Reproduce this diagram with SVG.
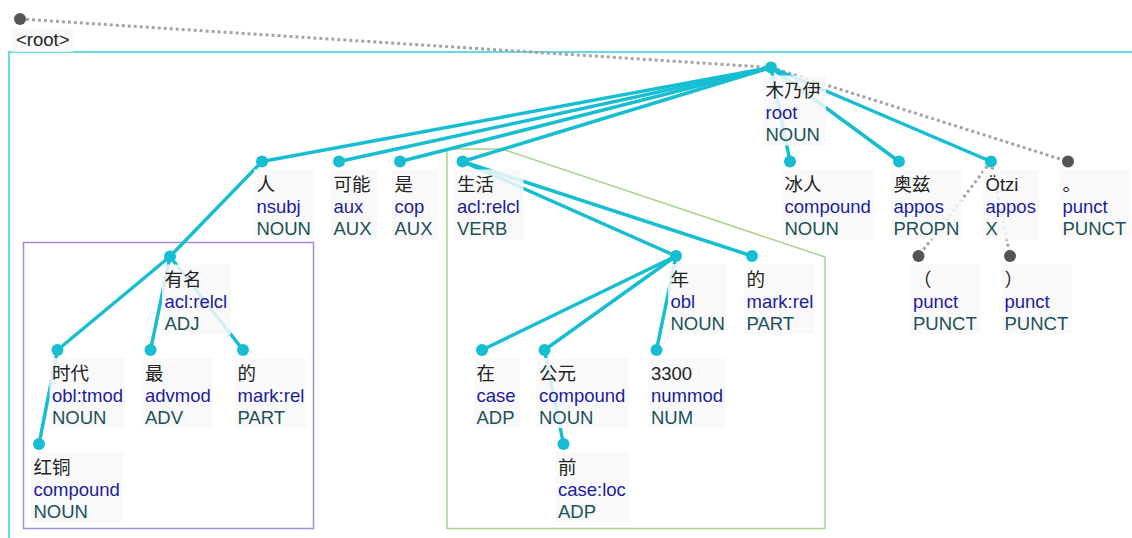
<svg xmlns="http://www.w3.org/2000/svg" width="1132" height="538" viewBox="0 0 1132 538">
<style>
text{font-family:"Liberation Sans",Arial,"Noto Sans CJK SC",sans-serif;font-size:18.5px}
.w{fill:#222}
.d{fill:#1c1ca0}
.p{fill:#1d5258}
.bx{fill:#f8f8f8;fill-opacity:0.85}
.dot{fill:#17bed2}
.gdot{fill:#555}
.e{stroke:#17bed2;stroke-width:3.5;fill:none;stroke-linecap:round}
.g{stroke:#a5a5a5;stroke-width:3;fill:none;stroke-dasharray:3 3}
</style>
<rect width="1132" height="538" fill="#fff"/>
<g id="frames">
<rect x="9" y="52" width="1140" height="500" fill="none" stroke="#66d8e7" stroke-width="2"/>
<rect x="23.5" y="242.5" width="290" height="286" fill="none" stroke="#a68bd9" stroke-width="1.5"/>
<polygon points="447,149 502,149 825,257 825,528.5 447,528.5" fill="none" stroke="#a8d48a" stroke-width="1.5"/>
</g>
<g id="connectors">
<line class="g" x1="20" y1="19" x2="771" y2="67.5"/>
<line class="g" x1="771" y1="67.5" x2="1068" y2="161.5"/>
<line class="e" x1="771" y1="67.5" x2="262" y2="161.5"/>
<line class="e" x1="771" y1="67.5" x2="339" y2="161.5"/>
<line class="e" x1="771" y1="67.5" x2="400" y2="161.5"/>
<line class="e" x1="771" y1="67.5" x2="462.5" y2="161.5"/>
<line class="e" x1="771" y1="67.5" x2="790" y2="161.5"/>
<line class="e" x1="771" y1="67.5" x2="899" y2="161.5"/>
<line class="e" x1="771" y1="67.5" x2="991" y2="161.5"/>
<line class="e" x1="262" y1="161.5" x2="170" y2="256.5"/>
<line class="e" x1="170" y1="256.5" x2="57.5" y2="350"/>
<line class="e" x1="170" y1="256.5" x2="150.5" y2="350"/>
<line class="e" x1="170" y1="256.5" x2="243" y2="350"/>
<line class="e" x1="57.5" y1="350" x2="39" y2="444"/>
<line class="e" x1="462.5" y1="161.5" x2="676" y2="256"/>
<line class="e" x1="462.5" y1="161.5" x2="752" y2="256"/>
<line class="e" x1="676" y1="256" x2="482" y2="350"/>
<line class="e" x1="676" y1="256" x2="544.5" y2="350"/>
<line class="e" x1="676" y1="256" x2="656.5" y2="350"/>
<line class="e" x1="544.5" y1="350" x2="563.5" y2="444"/>
<line class="g" x1="991" y1="161.5" x2="918.5" y2="256"/>
<line class="g" x1="991" y1="161.5" x2="1010" y2="256"/>
</g>
<g id="root-label">
<rect class="bx" x="12" y="28" width="61" height="24"/>
<circle class="gdot" cx="20" cy="19" r="6"/>
<text class="w" x="16" y="46">&lt;root&gt;</text>
</g>
<g id="n-mumuyi" transform="translate(771,67.5)">
<rect class="bx" x="-8" y="8" width="63" height="70"/>
<circle class="dot" r="6"/>
<text class="w" x="-5.5" y="29.5">木乃伊</text>
<text class="d" x="-5.5" y="51.5">root</text>
<text class="p" x="-5.5" y="73.5">NOUN</text>
</g>
<g id="n-ren" transform="translate(262,161.5)">
<rect class="bx" x="-8" y="8" width="59" height="70"/>
<circle class="dot" r="6"/>
<text class="w" x="-5.5" y="29.5">人</text>
<text class="d" x="-5.5" y="51.5">nsubj</text>
<text class="p" x="-5.5" y="73.5">NOUN</text>
</g>
<g id="n-keneng" transform="translate(339,161.5)">
<rect class="bx" x="-8" y="8" width="46" height="70"/>
<circle class="dot" r="6"/>
<text class="w" x="-5.5" y="29.5">可能</text>
<text class="d" x="-5.5" y="51.5">aux</text>
<text class="p" x="-5.5" y="73.5">AUX</text>
</g>
<g id="n-shi" transform="translate(400,161.5)">
<rect class="bx" x="-8" y="8" width="46" height="70"/>
<circle class="dot" r="6"/>
<text class="w" x="-5.5" y="29.5">是</text>
<text class="d" x="-5.5" y="51.5">cop</text>
<text class="p" x="-5.5" y="73.5">AUX</text>
</g>
<g id="n-shenghuo" transform="translate(462.5,161.5)">
<rect class="bx" x="-8" y="8" width="69" height="70"/>
<circle class="dot" r="6"/>
<text class="w" x="-5.5" y="29.5">生活</text>
<text class="d" x="-5.5" y="51.5">acl:relcl</text>
<text class="p" x="-5.5" y="73.5">VERB</text>
</g>
<g id="n-bingren" transform="translate(790,161.5)">
<rect class="bx" x="-8" y="8" width="92" height="70"/>
<circle class="dot" r="6"/>
<text class="w" x="-5.5" y="29.5">冰人</text>
<text class="d" x="-5.5" y="51.5">compound</text>
<text class="p" x="-5.5" y="73.5">NOUN</text>
</g>
<g id="n-aozi" transform="translate(899,161.5)">
<rect class="bx" x="-8" y="8" width="71" height="70"/>
<circle class="dot" r="6"/>
<text class="w" x="-5.5" y="29.5">奥兹</text>
<text class="d" x="-5.5" y="51.5">appos</text>
<text class="p" x="-5.5" y="73.5">PROPN</text>
</g>
<g id="n-otzi" transform="translate(991,161.5)">
<rect class="bx" x="-8" y="8" width="56" height="70"/>
<circle class="dot" r="6"/>
<text class="w" x="-5.5" y="29.5">Ötzi</text>
<text class="d" x="-5.5" y="51.5">appos</text>
<text class="p" x="-5.5" y="73.5">X</text>
</g>
<g id="n-period" transform="translate(1068,161.5)">
<rect class="bx" x="-8" y="8" width="70" height="70"/>
<circle class="gdot" r="6"/>
<text class="w" x="-5.5" y="29.5">。</text>
<text class="d" x="-5.5" y="51.5">punct</text>
<text class="p" x="-5.5" y="73.5">PUNCT</text>
</g>
<g id="n-youming" transform="translate(170,256.5)">
<rect class="bx" x="-8" y="8" width="69" height="70"/>
<circle class="dot" r="6"/>
<text class="w" x="-5.5" y="29.5">有名</text>
<text class="d" x="-5.5" y="51.5">acl:relcl</text>
<text class="p" x="-5.5" y="73.5">ADJ</text>
</g>
<g id="n-shidai" transform="translate(57.5,350)">
<rect class="bx" x="-8" y="8" width="75" height="70"/>
<circle class="dot" r="6"/>
<text class="w" x="-5.5" y="29.5">时代</text>
<text class="d" x="-5.5" y="51.5">obl:tmod</text>
<text class="p" x="-5.5" y="73.5">NOUN</text>
</g>
<g id="n-zui" transform="translate(150.5,350)">
<rect class="bx" x="-8" y="8" width="70" height="70"/>
<circle class="dot" r="6"/>
<text class="w" x="-5.5" y="29.5">最</text>
<text class="d" x="-5.5" y="51.5">advmod</text>
<text class="p" x="-5.5" y="73.5">ADV</text>
</g>
<g id="n-de1" transform="translate(243,350)">
<rect class="bx" x="-8" y="8" width="71" height="70"/>
<circle class="dot" r="6"/>
<text class="w" x="-5.5" y="29.5">的</text>
<text class="d" x="-5.5" y="51.5">mark:rel</text>
<text class="p" x="-5.5" y="73.5">PART</text>
</g>
<g id="n-hongtong" transform="translate(39,444)">
<rect class="bx" x="-8" y="8" width="92" height="70"/>
<circle class="dot" r="6"/>
<text class="w" x="-5.5" y="29.5">红铜</text>
<text class="d" x="-5.5" y="51.5">compound</text>
<text class="p" x="-5.5" y="73.5">NOUN</text>
</g>
<g id="n-nian" transform="translate(676,256)">
<rect class="bx" x="-8" y="8" width="59" height="70"/>
<circle class="dot" r="6"/>
<text class="w" x="-5.5" y="29.5">年</text>
<text class="d" x="-5.5" y="51.5">obl</text>
<text class="p" x="-5.5" y="73.5">NOUN</text>
</g>
<g id="n-de2" transform="translate(752,256)">
<rect class="bx" x="-8" y="8" width="71" height="70"/>
<circle class="dot" r="6"/>
<text class="w" x="-5.5" y="29.5">的</text>
<text class="d" x="-5.5" y="51.5">mark:rel</text>
<text class="p" x="-5.5" y="73.5">PART</text>
</g>
<g id="n-zai" transform="translate(482,350)">
<rect class="bx" x="-8" y="8" width="46" height="70"/>
<circle class="dot" r="6"/>
<text class="w" x="-5.5" y="29.5">在</text>
<text class="d" x="-5.5" y="51.5">case</text>
<text class="p" x="-5.5" y="73.5">ADP</text>
</g>
<g id="n-gongyuan" transform="translate(544.5,350)">
<rect class="bx" x="-8" y="8" width="92" height="70"/>
<circle class="dot" r="6"/>
<text class="w" x="-5.5" y="29.5">公元</text>
<text class="d" x="-5.5" y="51.5">compound</text>
<text class="p" x="-5.5" y="73.5">NOUN</text>
</g>
<g id="n-3300" transform="translate(656.5,350)">
<rect class="bx" x="-8" y="8" width="77" height="70"/>
<circle class="dot" r="6"/>
<text class="w" x="-5.5" y="29.5">3300</text>
<text class="d" x="-5.5" y="51.5">nummod</text>
<text class="p" x="-5.5" y="73.5">NUM</text>
</g>
<g id="n-qian" transform="translate(563.5,444)">
<rect class="bx" x="-8" y="8" width="74" height="70"/>
<circle class="dot" r="6"/>
<text class="w" x="-5.5" y="29.5">前</text>
<text class="d" x="-5.5" y="51.5">case:loc</text>
<text class="p" x="-5.5" y="73.5">ADP</text>
</g>
<g id="n-lparen" transform="translate(918.5,256)">
<rect class="bx" x="-8" y="8" width="70" height="70"/>
<circle class="gdot" r="6"/>
<text class="w" x="-5.5" y="29.5">（</text>
<text class="d" x="-5.5" y="51.5">punct</text>
<text class="p" x="-5.5" y="73.5">PUNCT</text>
</g>
<g id="n-rparen" transform="translate(1010,256)">
<rect class="bx" x="-8" y="8" width="70" height="70"/>
<circle class="gdot" r="6"/>
<text class="w" x="-5.5" y="29.5">）</text>
<text class="d" x="-5.5" y="51.5">punct</text>
<text class="p" x="-5.5" y="73.5">PUNCT</text>
</g>
</svg>
